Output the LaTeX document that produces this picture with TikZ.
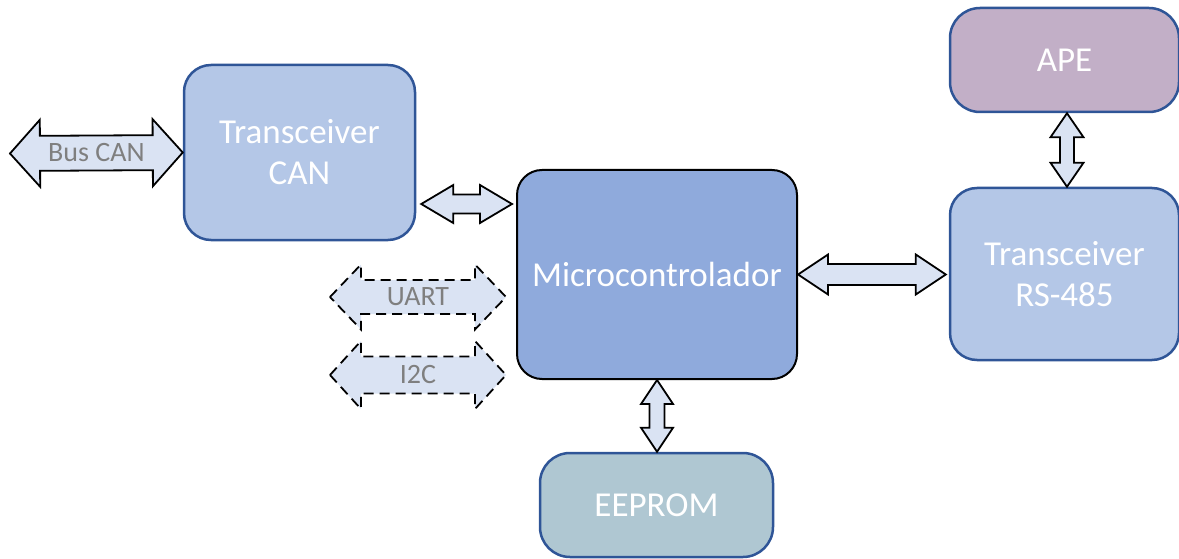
\documentclass[tikz,border=0pt]{standalone}
\usepackage{fontspec}
\setmainfont{Carlito}
\usetikzlibrary{calc}

\definecolor{canfill}{HTML}{B4C7E7}
\definecolor{mcufill}{HTML}{8FAADC}
\definecolor{apefill}{HTML}{C2AFC7}
\definecolor{eepfill}{HTML}{AFC7D2}
\definecolor{edgeblue}{HTML}{2F5597}
\definecolor{arrfill}{HTML}{DAE3F3}
\definecolor{lblgray}{HTML}{7F7F7F}

\tikzset{
	arr shaft/.store in=\arrshaft, arr head/.store in=\arrhead, arr tip/.store in=\arrtip,
	arr shaft=10pt, arr head=20pt, arr tip=30pt,
	% block double arrow drawn between two points
	biarrow/.style={draw=black, line width=1.8pt, fill=arrfill, line join=miter,
		to path={($(\tikztostart)!\arrtip!(\tikztotarget)$) coordinate (h1)
			($(\tikztotarget)!\arrtip!(\tikztostart)$) coordinate (h2)
			(\tikztostart) -- ($(h1)!\arrhead!90:(\tikztotarget)$) -- ($(h1)!\arrshaft!90:(\tikztotarget)$)
			-- ($(h2)!\arrshaft!-90:(\tikztostart)$) -- ($(h2)!\arrhead!-90:(\tikztostart)$)
			-- (\tikztotarget) -- ($(h2)!\arrhead!90:(\tikztostart)$) -- ($(h2)!\arrshaft!90:(\tikztostart)$)
			-- ($(h1)!\arrshaft!-90:(\tikztotarget)$) -- ($(h1)!\arrhead!-90:(\tikztotarget)$) -- cycle}},
	block/.style={draw=edgeblue, line width=2.5pt, rounded corners=27pt, text=white,
		align=center, font=\fontsize{35}{41}\selectfont},
	lbl/.style={text=lblgray, font=\fontsize{28}{30}\selectfont}
}

\begin{document}
\begin{tikzpicture}[x=1pt,y=-1pt]
	\useasboundingbox (0,0) rectangle (1179,559);

	\node[block, fill=canfill, minimum width=231pt, minimum height=175pt] (can) at (299.5,152.5) {Transceiver\\CAN};
	\node[block, fill=mcufill, draw=black, line width=2pt, rounded corners=25pt, minimum width=280pt, minimum height=209pt] (mcu) at (657,274.5) {Microcontrolador};
	\node[block, fill=apefill, rounded corners=30pt, minimum width=229pt, minimum height=104pt] (ape) at (1064.5,60) {APE};
	\node[block, fill=canfill, minimum width=229pt, minimum height=172pt] (rs) at (1064.5,274) {Transceiver\\RS-485};
	\node[block, fill=eepfill, rounded corners=30pt, minimum width=233pt, minimum height=104pt] (eep) at (656.5,505) {EEPROM};

	\coordinate (bus) at (10,153.5);
	\coordinate (uartL) at (330,297);
	\coordinate (uartR) at (506,297);
	\coordinate (iicL) at (330,375);
	\coordinate (iicR) at (506,375);

	\draw[biarrow, arr shaft=17.5pt, arr head=33.5pt, arr tip=30pt] (bus) to (can.west);
	\draw[biarrow, arr shaft=9.5pt, arr head=19pt, arr tip=32pt] ($(can.east)+(5,51.5)$) to ($(mcu.west)+(-4,-70.5)$);
	\draw[biarrow, arr shaft=10.5pt, arr head=20pt, arr tip=30pt] (mcu.east) to ([xshift=-3pt]mcu.east -| rs.west);
	\draw[biarrow, arr shaft=7pt, arr head=16.5pt, arr tip=24pt] ([xshift=2.5pt]ape.south) to ([xshift=2.5pt]rs.north);
	\draw[biarrow, arr shaft=7.5pt, arr head=16pt, arr tip=24pt] (mcu.south) to (mcu.south |- eep.north);
	\draw[biarrow, dash pattern=on 10pt off 6pt, arr shaft=17pt, arr head=32.5pt, arr tip=31pt] (uartL) to (uartR);
	\draw[biarrow, dash pattern=on 10pt off 6pt, arr shaft=18.5pt, arr head=34pt, arr tip=31pt] (iicL) to (iicR);

	\node[lbl] (buslbl) at ($(bus)!.5!(can.west)$) {Bus CAN};
	\node[lbl] (uartlbl) at ($(uartL)!.5!(uartR)$) {UART};
	\node[lbl] (iiclbl) at ($(iicL)!.5!(iicR)$) {I2C};
\end{tikzpicture}
\end{document}
